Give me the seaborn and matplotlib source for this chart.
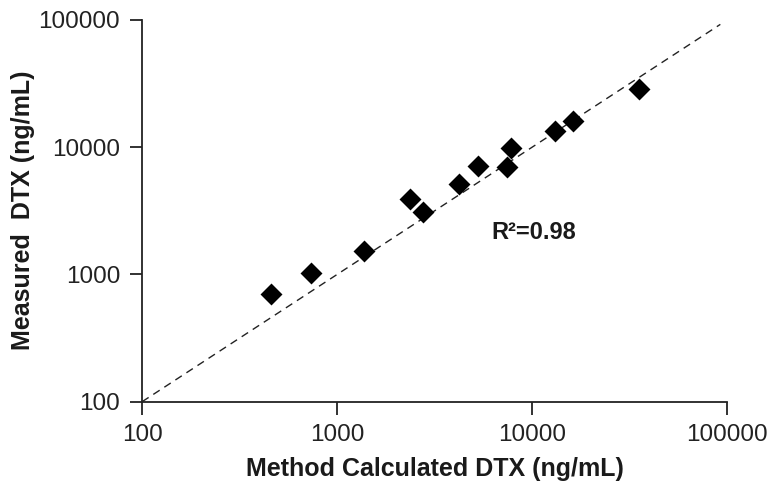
import numpy as np
import pandas as pd
import matplotlib
matplotlib.use('Agg')
import matplotlib.pyplot as plt
import seaborn as sns

calculated = [456, 736, 1374, 2371, 2754, 4207, 5260, 7450, 7745, 13030, 16180, 35070]
measured = [702, 1018, 1531, 3899, 3069, 5105, 7063, 6936, 9771, 13430, 15880, 28380]

# identity line
line_x = [100, 92000]
line_y = [100, 92000]

ticks = [100, 1000, 10000, 100000]
tick_labels = ['100', '1000', '10000', '100000']

df = pd.DataFrame({'calc': calculated, 'meas': measured})

sns.set_style('ticks')
plt.rcParams['font.family'] = ['Liberation Sans', 'DejaVu Sans']

fig = plt.figure(figsize=(7.73, 4.94), dpi=100)
ax = fig.add_axes([0.184, 0.187, 0.757, 0.773])

ax.plot(line_x, line_y, color='#222222', lw=1.0, linestyle=(0, (5.5, 4)), zorder=1)
sns.scatterplot(data=df, x='calc', y='meas', marker='D', color='black',
                s=125, linewidth=0, ax=ax, zorder=2)

ax.set_xscale('log')
ax.set_yscale('log')
ax.set_xlim(100, 100000)
ax.set_ylim(100, 100000)
ax.set_xticks(ticks)
ax.set_xticklabels(tick_labels)
ax.set_yticks(ticks)
ax.set_yticklabels(tick_labels)
ax.minorticks_off()
ax.tick_params(axis='both', labelsize=17.5, length=9, width=1.3, color='#222222',
               labelcolor='#222222', pad=7)

for side in ['top', 'right']:
    ax.spines[side].set_visible(False)
for side in ['left', 'bottom']:
    ax.spines[side].set_linewidth(1.3)
    ax.spines[side].set_color('#222222')

ax.set_xlabel('Method Calculated DTX (ng/mL)', fontsize=18, fontweight='bold',
              color='#1a1a1a')
ax.set_ylabel('Measured  DTX (ng/mL)', fontsize=18, fontweight='bold',
              color='#1a1a1a')
ax.xaxis.set_label_coords(0.5, -0.145)
ax.yaxis.set_label_coords(-0.184, 0.5)

ax.text(6200, 2150, 'R²=0.98', fontsize=17, fontweight='bold', color='#1a1a1a',
        va='center', ha='left')

fig.savefig('out.png', dpi=100)
